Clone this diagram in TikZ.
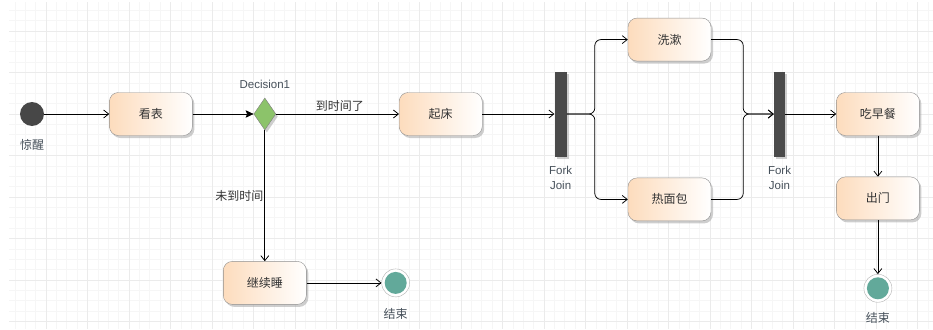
\documentclass[tikz,border=0pt]{standalone}
\usepackage{fontspec}
\setmainfont{Liberation Sans}
\newfontfamily\cjk{Noto Sans CJK SC}
\usetikzlibrary{shapes.geometric, arrows.meta, positioning, shadows}

\definecolor{peach}{HTML}{FDDCBD}
\definecolor{boxline}{HTML}{8E8E8E}
\definecolor{darkdot}{HTML}{474747}
\definecolor{leafgreen}{HTML}{8CC36A}
\definecolor{endteal}{HTML}{62A99A}
\definecolor{bargray}{HTML}{4A4A4A}
\definecolor{labeltext}{HTML}{46505A}

\begin{document}
\begin{tikzpicture}[
x=1pt, y=-1pt,
node distance=40pt,
every node/.style={align=center, font=\cjk\fontsize{12}{14}\selectfont, text=black!80},
shade/.style={drop shadow={shadow xshift=2pt, shadow yshift=-2.5pt, fill=gray!70, opacity=.55}},
process/.style={rectangle, rounded corners=9pt, draw=boxline, left color=peach, right color=white,
  minimum width=83pt, minimum height=43pt, shade},
startstate/.style={circle, fill=darkdot, minimum size=24pt, inner sep=0pt},
endstate/.style={circle, draw=gray!60, fill=white, minimum size=28pt, inner sep=0pt,
  path picture={\fill[endteal] (path picture bounding box.center) circle (11pt);}},
decision/.style={diamond, draw=gray, fill=leafgreen, minimum width=22pt, minimum height=32pt, inner sep=0pt, shade},
forkbar/.style={rectangle, fill=bargray, minimum width=12pt, minimum height=85pt, inner sep=0pt, shade},
caption/.style={inner sep=1pt, text=labeltext},
latin/.style={font=\fontsize{11.5}{15}\selectfont},
arrow/.style={-{Straight Barb[length=5pt, width=8pt]}, line width=.75pt},
solidarrow/.style={-{Stealth[length=8pt, width=7.5pt, inset=1.5pt]}, line width=.75pt},
minorgrid/.style={gray!7, line width=.6pt},
majorgrid/.style={gray!16, line width=.7pt}
]

\useasboundingbox (0,0) rectangle (933,329);

% GRID
\begin{scope}
\clip (9,3) rectangle (933,329);
\foreach \i in {1,...,89} \draw[minorgrid] ({4.5+10.375*\i},0) -- ({4.5+10.375*\i},329);
\foreach \j in {1,...,33} \draw[minorgrid] (0,{-10.5+10.375*\j}) -- (933,{-10.5+10.375*\j});
\foreach \i in {0,...,22} \draw[majorgrid] ({4.5+41.5*\i},0) -- ({4.5+41.5*\i},329);
\foreach \j in {1,...,8} \draw[majorgrid] (0,{-10.5+41.5*\j}) -- (933,{-10.5+41.5*\j});
\end{scope}

% INICIO
\node (wake) [startstate] at (32,114) {};
\node (wakelbl) [caption, below=12pt of wake] {惊醒};
\node (watch) [process, right=65pt of wake] {看表};

% DECISION
\node (check) [decision, right=61pt of watch] {};
\node (checklbl) [caption, latin, above=8pt of check] {Decision1};

% NO A TIEMPO
\node (sleep) [process, below=131pt of check] {继续睡};
\node (end1) [endstate, right=75pt of sleep] {};
\node (end1lbl) [caption, below=10pt of end1] {结束};

% A TIEMPO
\node (getup) [process, right=123pt of check] {起床};
\node (fork1) [forkbar, right=72pt of getup] {};
\node (fork1lbl) [caption, latin, below=8pt of fork1] {Fork\\Join};
\node (wash) [process, above right=10pt and 61pt of fork1] {洗漱};
\node (bread) [process, below right=21pt and 61pt of fork1] {热面包};
\node (fork2) [forkbar, minimum width=11pt, right=207pt of fork1] {};
\node (fork2lbl) [caption, latin, below=8pt of fork2] {Fork\\Join};
\node (eat) [process, right=51pt of fork2] {吃早餐};
\node (leave) [process, below=41pt of eat] {出门};
\node (end2) [endstate, below=54pt of leave] {};
\node (end2lbl) [caption, below=9pt of end2] {结束};

% FLECHAS
\draw[arrow] (wake) -- (watch);
\draw[solidarrow] (watch) -- (check);
\draw[arrow] (check) -- node[above, pos=.52, inner sep=2pt]{到时间了} (getup);
\draw[arrow] (check) -- node[left, pos=.5, inner sep=1pt]{未到时间} (sleep);
\draw[arrow] (sleep) -- (end1);
\draw[arrow] (getup) -- (fork1);

% Fork
\draw[arrow, rounded corners=6pt] (fork1.east) -- ++(28pt,0) |- (wash.west);
\draw[arrow, rounded corners=6pt] (fork1.east) -- ++(28pt,0) |- (bread.west);

% Join
\draw[arrow, rounded corners=6pt] (wash.east) -- ++(32pt,0) |- (fork2.west);
\draw[arrow, rounded corners=6pt] (bread.east) -- ++(32pt,0) |- (fork2.west);

\draw[arrow] (fork2) -- (eat);
\draw[arrow] (eat) -- (leave);
\draw[arrow] (leave) -- (end2);

\end{tikzpicture}
\end{document}
